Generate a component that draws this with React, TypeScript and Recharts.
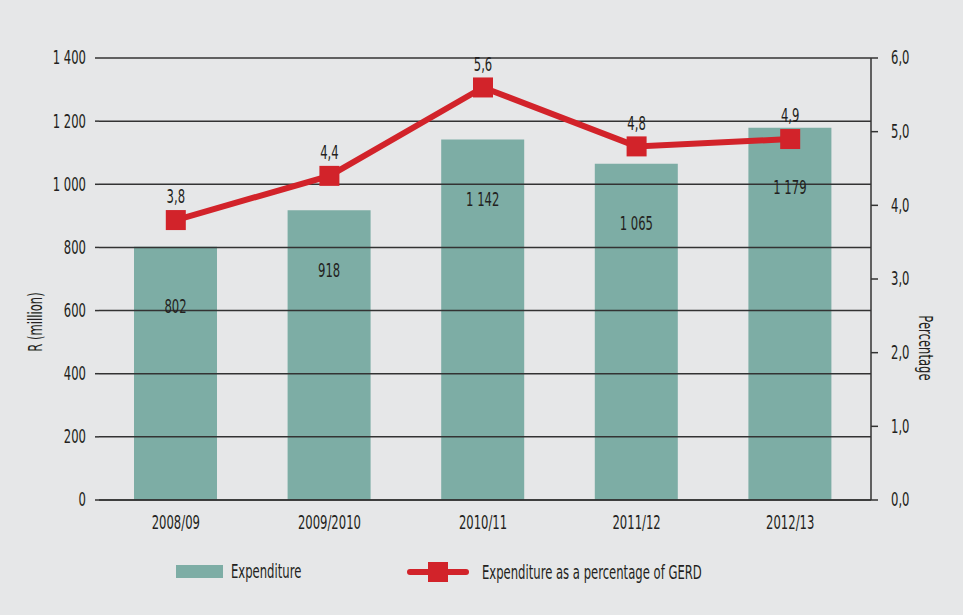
import { ComposedChart, Bar, Line, XAxis, YAxis, CartesianGrid, LabelList, Label } from "recharts";

const years = ["2008/09", "2009/2010", "2010/11", "2011/12", "2012/13"];
const expenditure = [802, 918, 1142, 1065, 1179];
const pctOfGerd = [3.8, 4.4, 5.6, 4.8, 4.9];
const leftTicks = [0, 200, 400, 600, 800, 1000, 1200, 1400];
const rightTicks = [0, 1, 2, 3, 4, 5, 6];

const data = years.map((year, i) => ({ year, spend: expenditure[i], pct: pctOfGerd[i] }));

// the original uses a condensed face; squeeze DejaVu Sans Condensed horizontally
const FONT = "'DejaVu Sans Condensed', 'DejaVu Sans', sans-serif";
const FS = 19;
const SX = 0.68;
const INK = "#231f20";
const BG = "#e6e7e8";
const TEAL = "#7dada5";
const RED = "#d2232a";
const GRID = "#333333";

const spaced = (v: number) => String(v).replace(/\B(?=(\d{3})+(?!\d))/g, " ");
const comma = (v: number) => v.toFixed(1).replace(".", ",");

function Narrow({ x, y, anchor = "middle", rotate = 0, children }: any) {
  return (
    <g transform={`translate(${x},${y}) rotate(${rotate}) scale(${SX},1)`}>
      <text x={0} y={0} textAnchor={anchor} dominantBaseline="central" fill={INK} fontSize={FS} fontFamily={FONT}>
        {children}
      </text>
    </g>
  );
}

function LeftTick(props: any) {
  const { x, y, payload } = props;
  return <Narrow x={x} y={y} anchor="end">{spaced(payload.value)}</Narrow>;
}

function RightTick(props: any) {
  const { x, y, payload } = props;
  return <Narrow x={x} y={y} anchor="start">{comma(payload.value)}</Narrow>;
}

function BottomTick(props: any) {
  const { x, y, payload } = props;
  return <Narrow x={x} y={y + 9}>{payload.value}</Narrow>;
}

function BarValue(props: any) {
  const { x, y, width, value } = props;
  return <Narrow x={x + width / 2} y={y + 60}>{spaced(value)}</Narrow>;
}

function PctValue(props: any) {
  const { x, y, value } = props;
  return <Narrow x={x} y={y - 23}>{comma(value)}</Narrow>;
}

function SquareDot(props: any) {
  const { cx, cy } = props;
  if (cx == null || cy == null) return null;
  return <rect x={cx - 10} y={cy - 10} width={20} height={20} fill={RED} />;
}

const legendText = {
  position: "absolute" as const,
  fontSize: FS,
  lineHeight: "24px",
  whiteSpace: "nowrap" as const,
  transform: `scaleX(${SX})`,
  transformOrigin: "left center",
};

export default function App() {
  return (
    <div style={{ position: "fixed", left: 0, top: 0, width: 963, height: 615, background: BG, fontFamily: FONT, color: INK }}>
      <ComposedChart width={963} height={615} data={data} margin={{ top: 58, right: 0, bottom: 75, left: 0 }}>
        <XAxis
          dataKey="year"
          height={40}
          padding={{ right: 4 }}
          tickLine={false}
          axisLine={{ stroke: GRID, strokeWidth: 1.5 }}
          tick={<BottomTick />}
          tickSize={6}
          tickMargin={8}
        />
        <YAxis
          yAxisId="left"
          width={99}
          domain={[0, 1400]}
          ticks={leftTicks}
          axisLine={false}
          tickLine={{ stroke: GRID, strokeWidth: 1.5 }}
          tickSize={4}
          tickMargin={9}
          tick={<LeftTick />}
        >
          <Label
            position="center"
            content={({ viewBox }: any) => (
              <Narrow x={viewBox.x + viewBox.width / 2 - 14} y={viewBox.y + viewBox.height / 2 + 43} rotate={-90}>
                R (million)
              </Narrow>
            )}
          />
        </YAxis>
        <YAxis
          yAxisId="right"
          orientation="right"
          width={92}
          domain={[0, 6]}
          ticks={rightTicks}
          axisLine={{ stroke: GRID, strokeWidth: 1.5 }}
          tickLine={{ stroke: GRID, strokeWidth: 1.5 }}
          tickSize={7}
          tickMargin={13}
          tick={<RightTick />}
        >
          <Label
            position="center"
            content={({ viewBox }: any) => (
              <Narrow x={viewBox.x + viewBox.width / 2 + 8} y={viewBox.y + viewBox.height / 2 + 69} rotate={90}>
                Percentage
              </Narrow>
            )}
          />
        </YAxis>
        <Bar yAxisId="left" dataKey="spend" fill={TEAL} barSize={83} isAnimationActive={false}>
          <LabelList dataKey="spend" content={<BarValue />} />
        </Bar>
        <CartesianGrid yAxisId="left" vertical={false} stroke={GRID} strokeWidth={1.5} strokeOpacity={1} {...({ zIndex: 350 } as any)} />
        <Line
          yAxisId="right"
          dataKey="pct"
          type="linear"
          stroke={RED}
          strokeWidth={6}
          dot={<SquareDot />}
          activeDot={false}
          isAnimationActive={false}
        >
          <LabelList dataKey="pct" content={<PctValue />} />
        </Line>
      </ComposedChart>

      <div style={{ position: "absolute", left: 176, top: 565, width: 47, height: 13, background: TEAL }} />
      <div style={{ ...legendText, left: 231, top: 559 }}>Expenditure</div>
      <div style={{ position: "absolute", left: 407, top: 569, width: 62, height: 6, borderRadius: 3, background: RED }} />
      <div style={{ position: "absolute", left: 428, top: 562, width: 20, height: 20, background: RED }} />
      <div style={{ ...legendText, left: 482, top: 560 }}>Expenditure as a percentage of GERD</div>
    </div>
  );
}
